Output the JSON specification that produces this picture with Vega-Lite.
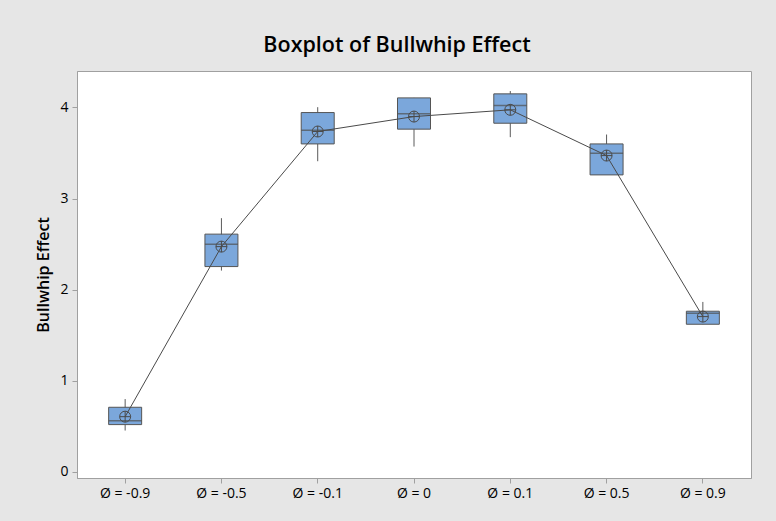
{
  "$schema": "https://vega.github.io/schema/vega-lite/v6.json",
  "width": 674,
  "height": 407,
  "autosize": {"type": "none"},
  "padding": {"left": 77, "top": 71, "right": 25, "bottom": 43},
  "background": "#e6e6e6",
  "title": {"text": "Boxplot of Bullwhip Effect", "fontSize": 21.5, "font": "Open Sans", "fontWeight": 600, "color": "#000000", "offset": 15, "dx": -17},
  "data": {"values": [
    {"phi": "Ø = -0.9", "min": 0.455, "q1": 0.52, "median": 0.563, "q3": 0.71, "max": 0.80, "mean": 0.607},
    {"phi": "Ø = -0.5", "min": 2.21, "q1": 2.254, "median": 2.50, "q3": 2.61, "max": 2.785, "mean": 2.473},
    {"phi": "Ø = -0.1", "min": 3.41, "q1": 3.60, "median": 3.751, "q3": 3.944, "max": 4.003, "mean": 3.736},
    {"phi": "Ø = 0", "min": 3.571, "q1": 3.762, "median": 3.93, "q3": 4.105, "max": 4.105, "mean": 3.90},
    {"phi": "Ø = 0.1", "min": 3.674, "q1": 3.827, "median": 4.021, "q3": 4.149, "max": 4.18, "mean": 3.974},
    {"phi": "Ø = 0.5", "min": 3.26, "q1": 3.26, "median": 3.498, "q3": 3.60, "max": 3.703, "mean": 3.472},
    {"phi": "Ø = 0.9", "min": 1.621, "q1": 1.621, "median": 1.742, "q3": 1.764, "max": 1.866, "mean": 1.705}
  ]},
  "encoding": {
    "x": {
      "field": "phi", "type": "nominal", "sort": null,
      "scale": {"paddingInner": 0, "paddingOuter": 0},
      "axis": {"title": null, "labelAngle": 0, "labelFontSize": 14, "labelFont": "Open Sans", "labelFontWeight": 500, "labelColor": "#000000", "labelPadding": 3, "tickSize": 5, "tickColor": "#a0a0a0", "domainColor": "#a0a0a0"}
    }
  },
  "layer": [
    {
      "mark": {"type": "rule", "color": "#5a5a5a", "strokeWidth": 1},
      "encoding": {
        "y": {"field": "min", "type": "quantitative", "scale": {"domain": [-0.066, 4.4], "nice": false, "zero": false},
          "axis": {"title": "Bullwhip Effect", "values": [0, 1, 2, 3, 4], "format": "d", "grid": false, "domainColor": "#a0a0a0", "tickColor": "#a0a0a0", "tickSize": 5, "labelFontSize": 14, "labelFont": "Open Sans", "labelFontWeight": 500, "labelColor": "#000000", "labelPadding": 4, "titleFontSize": 16, "titleFont": "Open Sans", "titleFontWeight": 600, "titleColor": "#000000", "titlePadding": 8}},
        "y2": {"field": "max"}
      }
    },
    {
      "mark": {"type": "bar", "width": 33, "fill": "#7ba7db", "stroke": "#555555", "strokeWidth": 1},
      "encoding": {
        "y": {"field": "q1", "type": "quantitative"},
        "y2": {"field": "q3"}
      }
    },
    {
      "mark": {"type": "tick", "size": 33, "thickness": 1.5, "color": "#505050"},
      "encoding": {
        "y": {"field": "median", "type": "quantitative"}
      }
    },
    {
      "mark": {"type": "line", "color": "#4a4a4a", "strokeWidth": 1},
      "encoding": {
        "y": {"field": "mean", "type": "quantitative"}
      }
    },
    {
      "mark": {"type": "point", "shape": "M-1,0A1,1,0,1,1,1,0A1,1,0,1,1,-1,0M-1,0L1,0M0,-1L0,1", "size": 121, "filled": false, "stroke": "#4a4a4a", "strokeWidth": 1, "opacity": 1},
      "encoding": {
        "y": {"field": "mean", "type": "quantitative"}
      }
    }
  ],
  "config": {
    "view": {"stroke": "#a0a0a0", "fill": "#ffffff"}
  }
}
